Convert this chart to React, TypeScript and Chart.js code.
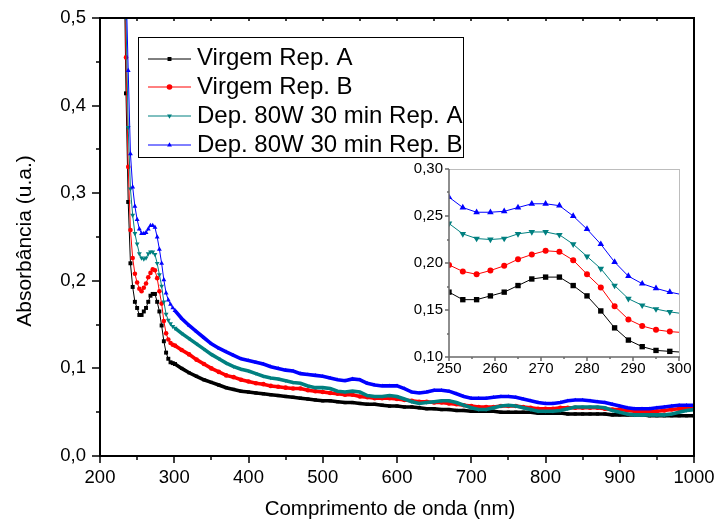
import React, { useEffect, useRef } from "react";
import { Chart, registerables } from "chart.js";
Chart.register(...registerables);

const FONT = "'Liberation Sans', Arial, Helvetica, sans-serif";

const seriesNames = ["Virgem Rep. A", "Virgem Rep. B", "Dep. 80W 30 min Rep. A", "Dep. 80W 30 min Rep. B"];
const seriesColors = ["#000000", "#ff0000", "#008080", "#0000ff"];
const seriesMarkers = ["rect", "circle", "triangleDown", "triangle"];

const xTitle = "Comprimento de onda (nm)";
const yTitle = "Absorbância (u.a.)";

// wavelengths (nm)
const waveStart = [232, 235, 238, 241, 244, 247];
const waveInset = [250, 253, 256, 259, 262, 265, 268, 271, 274, 277, 280, 283, 286, 289, 292, 295, 298, 301];
const waveTail = [
  310, 320, 330, 340, 350, 360, 370, 380, 390, 400,
  410, 420, 430, 440, 450, 460, 470, 480, 490, 500,
  510, 520, 530, 540, 550, 560, 570, 580, 590, 600,
  610, 620, 630, 640, 650, 660, 670, 680, 690, 700,
  710, 720, 730, 740, 750, 760, 770, 780, 790, 800,
  810, 820, 830, 840, 850, 860, 870, 880, 890, 900,
  910, 920, 930, 940, 950, 960, 970, 980, 990, 1000,
];

// Virgem Rep. A
const startA = [0.60, 0.414, 0.29, 0.22, 0.193, 0.176];
const insetA = [0.169, 0.161, 0.161, 0.165, 0.169, 0.176, 0.183, 0.185, 0.185, 0.176, 0.165, 0.149, 0.131, 0.118, 0.111, 0.107, 0.106, 0.105];
const tailA = [
  0.100, 0.095, 0.091, 0.087, 0.084, 0.081, 0.078, 0.076, 0.074, 0.073,
  0.072, 0.071, 0.070, 0.069, 0.068, 0.067, 0.066, 0.065, 0.064, 0.063,
  0.063, 0.062, 0.061, 0.061, 0.060, 0.059, 0.059, 0.058, 0.057, 0.057,
  0.056, 0.056, 0.055, 0.054, 0.054, 0.053, 0.053, 0.052, 0.052, 0.051,
  0.051, 0.051, 0.051, 0.050, 0.050, 0.050, 0.050, 0.050, 0.049, 0.049,
  0.049, 0.049, 0.048, 0.048, 0.048, 0.048, 0.048, 0.048, 0.047, 0.047,
  0.047, 0.047, 0.047, 0.046, 0.046, 0.046, 0.046, 0.046, 0.046, 0.046,
];

// Virgem Rep. B
const startB = [0.62, 0.455, 0.33, 0.258, 0.226, 0.208];
const insetB = [0.198, 0.191, 0.188, 0.192, 0.197, 0.204, 0.209, 0.213, 0.212, 0.203, 0.188, 0.174, 0.154, 0.140, 0.133, 0.129, 0.127, 0.126];
const tailB = [
  0.121, 0.116, 0.110, 0.105, 0.100, 0.096, 0.092, 0.090, 0.087, 0.085,
  0.083, 0.082, 0.080, 0.079, 0.078, 0.077, 0.077, 0.075, 0.074, 0.073,
  0.072, 0.071, 0.070, 0.070, 0.068, 0.067, 0.066, 0.066, 0.066, 0.065,
  0.064, 0.063, 0.062, 0.062, 0.061, 0.061, 0.060, 0.059, 0.058, 0.057,
  0.056, 0.056, 0.056, 0.057, 0.057, 0.057, 0.056, 0.055, 0.054, 0.054,
  0.054, 0.055, 0.055, 0.055, 0.055, 0.055, 0.055, 0.054, 0.053, 0.053,
  0.052, 0.051, 0.051, 0.051, 0.051, 0.052, 0.053, 0.054, 0.054, 0.055,
];

// Dep. 80W 30 min Rep. A
const startC = [0.65, 0.50, 0.375, 0.305, 0.275, 0.254];
const insetC = [0.242, 0.231, 0.226, 0.225, 0.226, 0.231, 0.233, 0.233, 0.230, 0.220, 0.207, 0.194, 0.176, 0.162, 0.155, 0.151, 0.148, 0.146];
const tailC = [
  0.140, 0.134, 0.128, 0.122, 0.116, 0.111, 0.106, 0.102, 0.099, 0.097,
  0.094, 0.091, 0.089, 0.088, 0.086, 0.084, 0.083, 0.080, 0.078, 0.078,
  0.077, 0.074, 0.073, 0.074, 0.073, 0.069, 0.068, 0.068, 0.069, 0.068,
  0.065, 0.062, 0.060, 0.061, 0.062, 0.063, 0.063, 0.061, 0.058, 0.055,
  0.053, 0.053, 0.055, 0.057, 0.058, 0.057, 0.055, 0.053, 0.051, 0.051,
  0.051, 0.052, 0.054, 0.056, 0.056, 0.056, 0.056, 0.055, 0.052, 0.050,
  0.048, 0.047, 0.047, 0.047, 0.047, 0.047, 0.048, 0.050, 0.052, 0.053,
];

// Dep. 80W 30 min Rep. B
const startD = [0.68, 0.54, 0.44, 0.345, 0.307, 0.285];
const insetD = [0.270, 0.259, 0.254, 0.254, 0.255, 0.259, 0.263, 0.263, 0.261, 0.250, 0.236, 0.220, 0.201, 0.186, 0.178, 0.173, 0.169, 0.166];
const tailD = [
  0.157, 0.149, 0.142, 0.135, 0.128, 0.123, 0.119, 0.115, 0.111, 0.109,
  0.107, 0.105, 0.102, 0.100, 0.098, 0.097, 0.094, 0.093, 0.092, 0.091,
  0.089, 0.087, 0.086, 0.088, 0.087, 0.083, 0.081, 0.080, 0.080, 0.080,
  0.077, 0.073, 0.072, 0.073, 0.075, 0.075, 0.074, 0.071, 0.068, 0.066,
  0.066, 0.066, 0.067, 0.068, 0.068, 0.067, 0.065, 0.063, 0.061, 0.060,
  0.060, 0.061, 0.063, 0.064, 0.064, 0.063, 0.062, 0.061, 0.059, 0.057,
  0.055, 0.054, 0.054, 0.054, 0.055, 0.056, 0.057, 0.058, 0.058, 0.058,
];

const mainXTicks = [200, 300, 400, 500, 600, 700, 800, 900, 1000];
const mainYTicks = [0, 0.1, 0.2, 0.3, 0.4, 0.5];
const insetXTicks = [250, 260, 270, 280, 290, 300];
const insetYTicks = [0.1, 0.15, 0.2, 0.25, 0.3];

const starts = [startA, startB, startC, startD];
const insets = [insetA, insetB, insetC, insetD];
const tails = [tailA, tailB, tailC, tailD];

function toPoints(xs: number[], ys: number[]) {
  return xs.map((x, i) => ({ x, y: ys[i] }));
}

function chartPointStyle(m: string) {
  return m === "triangleDown" ? "triangle" : m;
}

function drawMarker(ctx: CanvasRenderingContext2D, style: string, x: number, y: number, r: number, color: string) {
  ctx.save();
  ctx.fillStyle = color;
  ctx.beginPath();
  if (style === "rect") {
    const s = r * Math.SQRT1_2;
    ctx.rect(x - s, y - s, 2 * s, 2 * s);
  } else if (style === "circle") {
    ctx.arc(x, y, r, 0, Math.PI * 2);
  } else {
    const dir = style === "triangle" ? -1 : 1;
    ctx.moveTo(x, y + dir * r);
    ctx.lineTo(x - r * 0.866, y - dir * r * 0.5);
    ctx.lineTo(x + r * 0.866, y - dir * r * 0.5);
    ctx.closePath();
  }
  ctx.fill();
  ctx.restore();
}

const mainDecor = {
  id: "mainDecor",
  afterDraw(chart: any) {
    const ctx: CanvasRenderingContext2D = chart.ctx;
    const { left, right, top, bottom } = chart.chartArea;
    const xs = chart.scales.x;
    const ys = chart.scales.y;
    ctx.save();
    // frame
    ctx.strokeStyle = "#000";
    ctx.lineWidth = 2;
    ctx.strokeRect(left, top, right - left, bottom - top);
    // ticks
    ctx.lineWidth = 1.5;
    ctx.beginPath();
    for (let v = 200; v <= 1000; v += 50) {
      const px = Math.round(xs.getPixelForValue(v));
      const major = v % 100 === 0;
      ctx.moveTo(px, bottom);
      ctx.lineTo(px, bottom + (major ? 7 : 4));
      if (v > 200 && v < 1000) {
        ctx.moveTo(px, top);
        ctx.lineTo(px, top + 3);
      }
    }
    for (let i = 0; i <= 10; i++) {
      const py = Math.round(ys.getPixelForValue(i * 0.05));
      const major = i % 2 === 0;
      ctx.moveTo(left - (major ? 8 : 4), py);
      ctx.lineTo(left, py);
    }
    ctx.stroke();

    // axis titles
    ctx.fillStyle = "#000";
    ctx.font = `20.5px ${FONT}`;
    ctx.textAlign = "center";
    ctx.textBaseline = "middle";
    ctx.fillText(xTitle, 390, 509);
    ctx.save();
    ctx.translate(25, 241);
    ctx.rotate(-Math.PI / 2);
    ctx.font = `21px ${FONT}`;
    ctx.fillText(yTitle, 0, 0);
    ctx.restore();

    // legend
    const bx = 138.5, by = 37.5, bw = 325, bh = 120;
    ctx.fillStyle = "#fff";
    ctx.fillRect(bx, by, bw, bh);
    ctx.strokeStyle = "#000";
    ctx.lineWidth = 1;
    ctx.strokeRect(bx, by, bw, bh);
    ctx.font = `24px ${FONT}`;
    ctx.textAlign = "left";
    ctx.textBaseline = "middle";
    for (let i = 0; i < seriesNames.length; i++) {
      const ry = 58.5 + i * 28.8;
      ctx.strokeStyle = seriesColors[i];
      ctx.lineWidth = 1;
      ctx.beginPath();
      ctx.moveTo(148, Math.round(ry));
      ctx.lineTo(191, Math.round(ry));
      ctx.stroke();
      drawMarker(ctx, seriesMarkers[i], 169.5, Math.round(ry), 2.8, seriesColors[i]);
      ctx.fillStyle = "#000";
      ctx.fillText(seriesNames[i], 197, ry);
    }
    ctx.restore();
  },
};

const insetDecor = {
  id: "insetDecor",
  afterDraw(chart: any) {
    const ctx: CanvasRenderingContext2D = chart.ctx;
    const { left, right, top, bottom } = chart.chartArea;
    const xs = chart.scales.x;
    const ys = chart.scales.y;
    ctx.save();
    ctx.lineWidth = 1;
    ctx.strokeStyle = "#bdbdbd";
    ctx.beginPath();
    ctx.moveTo(left, top + 0.5);
    ctx.lineTo(right, top + 0.5);
    ctx.moveTo(right + 0.5, top);
    ctx.lineTo(right + 0.5, bottom);
    ctx.stroke();
    ctx.strokeStyle = "#6a6a6a";
    ctx.lineWidth = 1.5;
    ctx.beginPath();
    ctx.moveTo(left, top);
    ctx.lineTo(left, bottom);
    ctx.lineTo(right + 1, bottom);
    for (let v = 250; v <= 300; v += 5) {
      const px = Math.round(xs.getPixelForValue(v));
      ctx.moveTo(px, bottom);
      ctx.lineTo(px, bottom + (v % 10 === 0 ? 4 : 2));
    }
    for (let i = 0; i <= 8; i++) {
      const py = Math.round(ys.getPixelForValue(0.1 + i * 0.025));
      ctx.moveTo(left - (i % 2 === 0 ? 4 : 2), py);
      ctx.lineTo(left, py);
    }
    ctx.stroke();
    ctx.restore();
  },
};

export default function App() {
  const mainRef = useRef<HTMLCanvasElement>(null);
  const insetRef = useRef<HTMLCanvasElement>(null);

  useEffect(() => {
    const order = [3, 2, 1, 0];
    const mainDatasets = seriesNames.map((name, s) => ({
      label: name,
      data: [
        ...toPoints(waveStart, starts[s]),
        ...toPoints(waveInset, insets[s]),
        ...toPoints(waveTail, tails[s]),
      ],
      borderColor: seriesColors[s],
      backgroundColor: seriesColors[s],
      pointBackgroundColor: seriesColors[s],
      pointBorderColor: seriesColors[s],
      pointBorderWidth: 0,
      pointStyle: chartPointStyle(seriesMarkers[s]),
      pointRotation: seriesMarkers[s] === "triangleDown" ? 180 : 0,
      pointRadius: (c: any) => (c.raw && c.raw.x > 301 ? 2.3 : seriesMarkers[s] === "circle" ? 2.3 : 2.8),
      borderWidth: 1,
      segment: {
        borderWidth: (c: any) => (c.p0.parsed.x >= 301 ? 3.6 : 1),
      },
      tension: 0,
      order: order[s],
    }));

    const scaleFitX = (h: number) => (scale: any) => {
      scale.height = h;
      scale.paddingLeft = 0;
      scale.paddingRight = 0;
      scale.paddingTop = 0;
      scale.paddingBottom = 0;
    };
    const scaleFitY = (w: number) => (scale: any) => {
      scale.width = w;
      scale.paddingLeft = 0;
      scale.paddingRight = 0;
      scale.paddingTop = 0;
      scale.paddingBottom = 0;
    };

    const main = new Chart(mainRef.current!, {
      type: "line",
      data: { datasets: mainDatasets as any },
      options: {
        animation: false,
        responsive: false,
        events: [],
        layout: { padding: { left: 0, top: 18, right: 21, bottom: 0 } },
        plugins: { legend: { display: false }, tooltip: { enabled: false } },
        scales: {
          x: {
            type: "linear",
            min: 200,
            max: 1000,
            afterBuildTicks: (scale: any) => {
              scale.ticks = mainXTicks.map((v) => ({ value: v }));
            },
            ticks: {
              autoSkip: false,
              maxRotation: 0,
              padding: 4,
              color: "#000",
              font: { family: FONT, size: 18.5 },
              callback: (v: any) => String(v),
            },
            grid: { display: false, drawTicks: true, tickLength: 7 },
            border: { display: false },
            afterFit: scaleFitX(65),
          },
          y: {
            type: "linear",
            min: 0,
            max: 0.5,
            afterBuildTicks: (scale: any) => {
              scale.ticks = mainYTicks.map((v) => ({ value: v }));
            },
            ticks: {
              autoSkip: false,
              padding: 6,
              color: "#000",
              font: { family: FONT, size: 18.5 },
              callback: (v: any) => Number(v).toFixed(1).replace(".", ","),
            },
            grid: { display: false, drawTicks: true, tickLength: 8 },
            border: { display: false },
            afterFit: scaleFitY(100),
          },
        },
      },
      plugins: [mainDecor],
    });

    const insetDatasets = seriesNames.map((name, s) => ({
      label: name,
      data: toPoints(waveInset, insets[s]),
      borderColor: seriesColors[s],
      backgroundColor: seriesColors[s],
      pointBackgroundColor: seriesColors[s],
      pointBorderColor: seriesColors[s],
      pointBorderWidth: 0,
      pointStyle: chartPointStyle(seriesMarkers[s]),
      pointRotation: seriesMarkers[s] === "triangleDown" ? 180 : 0,
      pointRadius: seriesMarkers[s] === "circle" ? 3 : 3.8,
      borderWidth: 1,
      tension: 0,
      order: order[s],
    }));

    const inset = new Chart(insetRef.current!, {
      type: "line",
      data: { datasets: insetDatasets as any },
      options: {
        animation: false,
        responsive: false,
        events: [],
        layout: { padding: { left: 0, top: 19, right: 21, bottom: 0 } },
        plugins: { legend: { display: false }, tooltip: { enabled: false } },
        scales: {
          x: {
            type: "linear",
            min: 250,
            max: 300,
            afterBuildTicks: (scale: any) => {
              scale.ticks = insetXTicks.map((v) => ({ value: v }));
            },
            ticks: {
              autoSkip: false,
              maxRotation: 0,
              padding: 0,
              color: "#000",
              font: { family: FONT, size: 15 },
              callback: (v: any) => String(v),
            },
            grid: { display: false, drawTicks: true, tickLength: 3 },
            border: { display: false },
            afterFit: scaleFitX(28),
          },
          y: {
            type: "linear",
            min: 0.1,
            max: 0.3,
            afterBuildTicks: (scale: any) => {
              scale.ticks = insetYTicks.map((v) => ({ value: v }));
            },
            ticks: {
              autoSkip: false,
              padding: 2,
              color: "#000",
              font: { family: FONT, size: 15 },
              callback: (v: any) => Number(v).toFixed(2).replace(".", ","),
            },
            grid: { display: false, drawTicks: true, tickLength: 4 },
            border: { display: false },
            afterFit: scaleFitY(49),
          },
        },
      },
      plugins: [insetDecor],
    });

    return () => {
      main.destroy();
      inset.destroy();
    };
  }, []);

  return (
    <div style={{ position: "fixed", left: 0, top: 0, width: 715, height: 521, background: "#fff" }}>
      <canvas ref={mainRef} width={715} height={521} style={{ position: "absolute", left: 0, top: 0, display: "block" }} />
      <canvas ref={insetRef} width={300} height={235} style={{ position: "absolute", left: 400, top: 150, display: "block" }} />
    </div>
  );
}
